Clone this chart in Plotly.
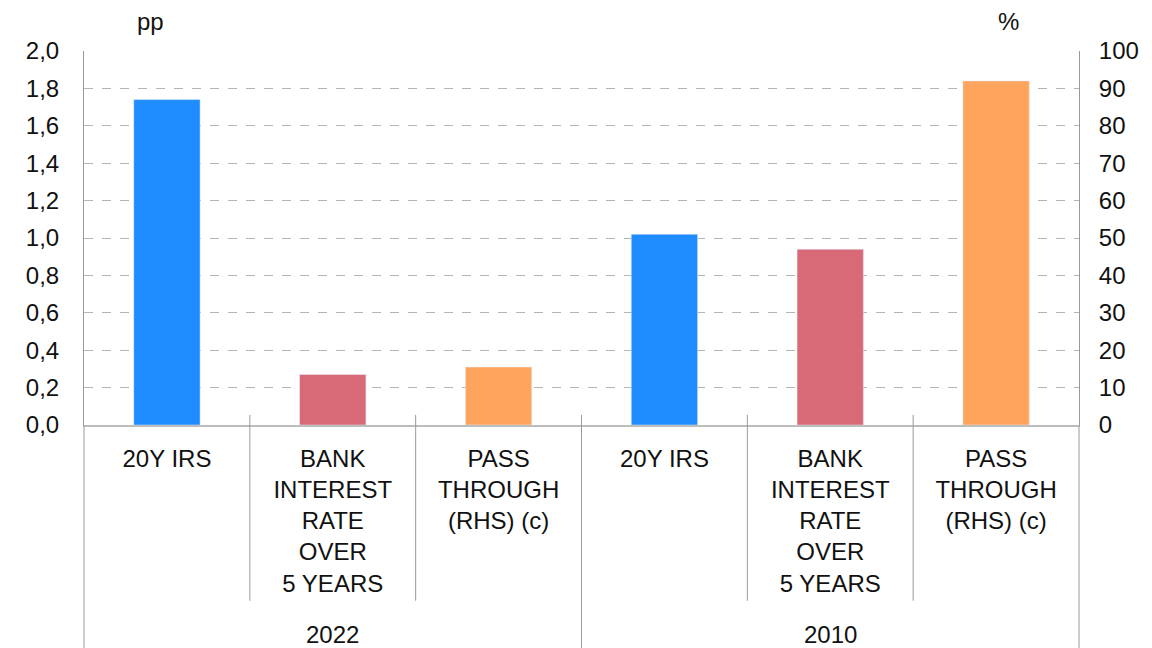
import plotly.graph_objects as go

# values
years = ["2022", "2010"]
categories = ["20Y IRS", "BANK<br>INTEREST<br>RATE<br>OVER<br>5 YEARS", "PASS<br>THROUGH<br>(RHS) (c)"]
irs = [1.74, 1.02]          # pp, left axis
bank_rate = [0.27, 0.94]    # pp, left axis
pass_through = [15.5, 92]   # %, right axis

n = len(categories)
x_irs = [j * n + 0 for j in range(len(years))]
x_bank = [j * n + 1 for j in range(len(years))]
x_pass = [j * n + 2 for j in range(len(years))]
tickvals = list(range(n * len(years)))
ticktext = categories * len(years)

font = dict(family="Liberation Sans, Arial, sans-serif", size=24, color="#111")
grey = "#9a9a9a"

fig = go.Figure()
fig.add_trace(go.Bar(x=x_irs, y=irs, marker_color="#1E8CFF", width=0.4, name="20Y IRS"))
fig.add_trace(go.Bar(x=x_bank, y=bank_rate, marker_color="#D86A78", width=0.4, name="Bank"))
fig.add_trace(go.Bar(x=x_pass, y=pass_through, marker_color="#FFA45C", width=0.4,
                     name="Pass through", yaxis="y2"))

# divider lines of the two-level category axis
shapes = []
total = n * len(years)
for k in range(1, total):
    frac = k / total
    y1 = -0.6 if k % n == 0 else -0.47
    shapes.append(dict(type="line", xref="paper", yref="paper", x0=frac, x1=frac, y0=0.027, y1=y1,
                       line=dict(color=grey, width=1)))
for frac in (0, 1):
    shapes.append(dict(type="line", xref="paper", yref="paper", x0=frac, x1=frac, y0=0, y1=-0.6,
                       line=dict(color=grey, width=1)))

annotations = []
for j, yr in enumerate(years):
    annotations.append(dict(text=yr, xref="paper", yref="paper", x=(j + 0.5) / len(years), y=-0.56,
                            showarrow=False, font=font, xanchor="center", yanchor="middle"))
annotations.append(dict(text="pp", xref="paper", yref="paper", x=0.067, y=1.078,
                        showarrow=False, font=font, xanchor="center", yanchor="middle"))
annotations.append(dict(text="%", xref="paper", yref="paper", x=0.929, y=1.078,
                        showarrow=False, font=font, xanchor="center", yanchor="middle"))

# page body adds an 8px offset, so the figure is 8px smaller and margins shifted
fig.update_layout(
    width=1144, height=640,
    margin=dict(l=76, r=73, t=43, b=223),
    paper_bgcolor="white", plot_bgcolor="white",
    showlegend=False, barmode="overlay",
    separators=",.",
    font=font,
    shapes=shapes, annotations=annotations,
    xaxis=dict(range=[-0.5, total - 0.5], tickvals=tickvals, ticktext=ticktext,
               showgrid=False, showline=True, linecolor="#bdbdbd", linewidth=2,
               ticks="outside", ticklen=11, tickcolor="rgba(0,0,0,0)", tickfont=font),
    yaxis=dict(range=[0, 2], dtick=0.2, tickformat=".1f", showgrid=True,
               gridcolor="#b5b5b5", griddash="dash", gridwidth=1,
               showline=True, linecolor=grey, linewidth=1, zeroline=False,
               ticks="outside", ticklen=19, tickcolor="rgba(0,0,0,0)", tickfont=font),
    yaxis2=dict(range=[0, 100], dtick=10, overlaying="y", side="right", showgrid=False,
                showline=True, linecolor=grey, linewidth=1, zeroline=False,
                ticks="outside", ticklen=14, tickcolor="rgba(0,0,0,0)", tickfont=font),
)

fig.write_html("out.html")
